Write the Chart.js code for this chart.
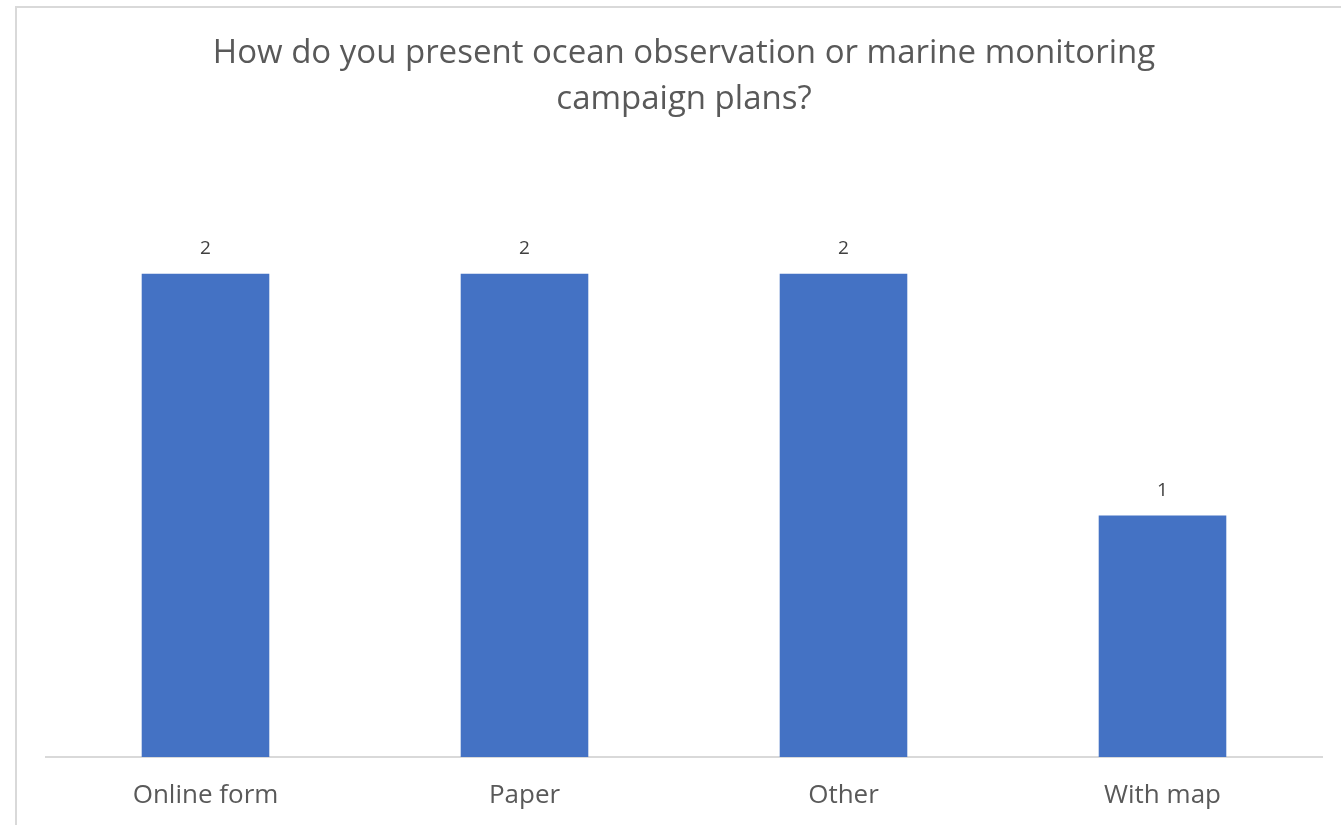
<!DOCTYPE html>
<html>
<head>
<meta charset="utf-8">
<script src="https://cdn.jsdelivr.net/npm/chart.js@4.4.1/dist/chart.umd.min.js"></script>
<style>
  html, body { margin: 0; padding: 0; background: #fff; overflow: hidden; width: 1341px; height: 825px; }
  #frame { position: absolute; left: 15px; top: 6px; width: 1336px; height: 840px; border: 2px solid #d9d9d9; box-sizing: border-box; background: #fff; }
  #wrap { position: absolute; left: 0; top: 0; width: 1332px; height: 820px; }
</style>
</head>
<body>
<div id="frame"><div id="wrap"><canvas id="c"></canvas></div></div>
<script>
const categories = ['Online form', 'Paper', 'Other', 'With map'];
const responses = [2, 2, 2, 1];
const titleLines = ['How do you present ocean observation or marine monitoring', 'campaign plans?'];

const FONT = "'Open Sans', 'Liberation Sans', sans-serif";

// Writes each bar's value just above it
const valueLabels = {
  id: 'valueLabels',
  afterDatasetsDraw(chart) {
    const ctx = chart.ctx;
    const meta = chart.getDatasetMeta(0);
    ctx.save();
    ctx.fillStyle = '#404040';
    ctx.font = '19px ' + FONT;
    ctx.textAlign = 'center';
    ctx.textBaseline = 'middle';
    meta.data.forEach((bar, i) => {
      ctx.fillText(String(responses[i]), bar.x, bar.y - 25);
    });
    ctx.restore();
  }
};

new Chart(document.getElementById('c'), {
  type: 'bar',
  data: {
    labels: categories,
    datasets: [{
      data: responses,
      backgroundColor: '#4472C4',
      borderWidth: 0,
      barPercentage: 0.4,
      categoryPercentage: 1.0
    }]
  },
  options: {
    responsive: true,
    maintainAspectRatio: false,
    animation: false,
    layout: { padding: { left: 29, right: 27, top: 0, bottom: 0 } },
    plugins: {
      legend: { display: false },
      tooltip: { enabled: false },
      title: {
        display: true,
        text: titleLines,
        color: '#595959',
        font: { family: FONT, size: 33, weight: 'normal', lineHeight: 46 / 33 },
        padding: { top: 23, bottom: 30 }
      }
    },
    scales: {
      x: {
        grid: { display: false, drawTicks: false },
        border: { display: true, color: '#d9d9d9', width: 2 },
        ticks: { color: '#595959', font: { family: FONT, size: 26 }, padding: 23 },
        afterFit(scale) { scale.height = 71; }
      },
      y: {
        display: false,
        min: 0,
        max: 2.5
      }
    }
  },
  plugins: [valueLabels]
});
</script>
</body>
</html>
